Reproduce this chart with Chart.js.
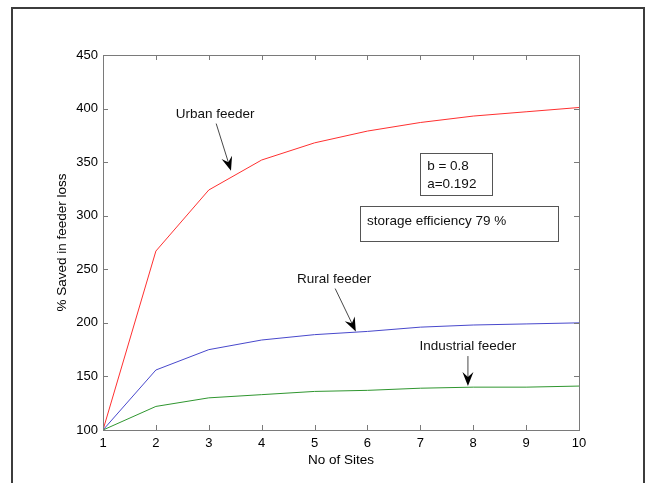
<!DOCTYPE html>
<html>
<head>
<meta charset="utf-8">
<script src="https://cdn.jsdelivr.net/npm/chart.js@4"></script>
<style>
  html, body { margin: 0; padding: 0; background: #fff; }
  #wrap { width: 646px; height: 483px; }
</style>
</head>
<body>
<div id="wrap"><canvas id="grafico" width="646" height="483"></canvas></div>
<script>
// datos
const sites = [1, 2, 3, 4, 5, 6, 7, 8, 9, 10];
const urban = [100, 267, 324, 352, 368, 379, 387, 393, 397, 401];
const rural = [100, 156, 175, 184, 189, 192, 196, 198, 199, 200];
const industrial = [100, 122, 130, 133, 136, 137, 139, 140, 140, 141];
const yTicks = [100, 150, 200, 250, 300, 350, 400, 450];

// anotaciones en unidades de datos (texto + flecha)
const labels = [
  { text: 'Urban feeder', x: 3.12, y: 395, from: [3.14, 386], to: [3.42, 342] },
  { text: 'Rural feeder', x: 5.37, y: 241, from: [5.39, 232], to: [5.78, 192] },
  { text: 'Industrial feeder', x: 7.9, y: 178, from: [7.9, 169], to: [7.9, 141] }
];
const boxes = [
  { x0: 7.0, x1: 8.35, y0: 359, y1: 319, lines: ['b = 0.8', 'a=0.192'], tx: 7.13, ty: [346.5, 329.5] },
  { x0: 5.85, x1: 9.6, y0: 309, y1: 276.5, lines: ['storage efficiency 79 %'], tx: 5.99, ty: [295] }
];

const FONT = '"Liberation Sans", Arial, Helvetica, sans-serif';

function toSeries(vals) {
  return vals.map((v, i) => ({ x: sites[i], y: v }));
}

const decoraciones = {
  id: 'decoraciones',
  beforeDraw(chart) {
    const c = chart.ctx;
    c.save();
    c.fillStyle = '#fff';
    c.fillRect(0, 0, chart.width, chart.height);
    // marco exterior
    c.strokeStyle = '#3c3c3c';
    c.lineWidth = 2;
    c.strokeRect(12, 8, 632, 520);
    c.restore();
  },
  afterDatasetsDraw(chart) {
    const c = chart.ctx;
    const a = chart.chartArea;
    const xs = chart.scales.x, ys = chart.scales.y;
    c.save();
    // caja del grafico y marcas hacia dentro
    c.strokeStyle = '#7a7a7a';
    c.lineWidth = 1;
    c.strokeRect(a.left + 0.5, a.top + 0.5, a.right - a.left, a.bottom - a.top);
    c.beginPath();
    sites.forEach(s => {
      const px = Math.round(xs.getPixelForValue(s)) + 0.5;
      c.moveTo(px, a.bottom); c.lineTo(px, a.bottom - 5);
      c.moveTo(px, a.top); c.lineTo(px, a.top + 5);
    });
    yTicks.forEach(t => {
      const py = Math.round(ys.getPixelForValue(t)) + 0.5;
      c.moveTo(a.left, py); c.lineTo(a.left + 5, py);
      c.moveTo(a.right, py); c.lineTo(a.right - 5, py);
    });
    c.stroke();

    // textos con flecha
    c.fillStyle = '#111';
    c.strokeStyle = '#333';
    c.font = '13.5px ' + FONT;
    c.textAlign = 'center';
    c.textBaseline = 'middle';
    labels.forEach(l => {
      c.fillStyle = '#111';
      c.fillText(l.text, xs.getPixelForValue(l.x), ys.getPixelForValue(l.y));
      const x1 = xs.getPixelForValue(l.from[0]), y1 = ys.getPixelForValue(l.from[1]);
      const x2 = xs.getPixelForValue(l.to[0]), y2 = ys.getPixelForValue(l.to[1]);
      const ang = Math.atan2(y2 - y1, x2 - x1);
      c.beginPath();
      c.moveTo(x1, y1);
      c.lineTo(x2 - 8 * Math.cos(ang), y2 - 8 * Math.sin(ang));
      c.lineWidth = 0.9;
      c.stroke();
      // punta
      const len = 14, half = 5.5;
      const bx = x2 - len * Math.cos(ang), by = y2 - len * Math.sin(ang);
      const mx = x2 - (len - 5) * Math.cos(ang), my = y2 - (len - 5) * Math.sin(ang);
      c.beginPath();
      c.moveTo(x2, y2);
      c.lineTo(bx + half * Math.sin(ang), by - half * Math.cos(ang));
      c.lineTo(mx, my);
      c.lineTo(bx - half * Math.sin(ang), by + half * Math.cos(ang));
      c.closePath();
      c.fillStyle = '#000';
      c.fill();
    });

    // cuadros de texto
    c.textAlign = 'left';
    boxes.forEach(b => {
      const x0 = Math.round(xs.getPixelForValue(b.x0)) + 0.5;
      const x1 = Math.round(xs.getPixelForValue(b.x1)) + 0.5;
      const y0 = Math.round(ys.getPixelForValue(b.y0)) + 0.5;
      const y1 = Math.round(ys.getPixelForValue(b.y1)) + 0.5;
      c.fillStyle = '#fff';
      c.fillRect(x0, y0, x1 - x0, y1 - y0);
      c.strokeStyle = '#555';
      c.lineWidth = 1;
      c.strokeRect(x0, y0, x1 - x0, y1 - y0);
      c.fillStyle = '#111';
      b.lines.forEach((t, i) => {
        c.fillText(t, xs.getPixelForValue(b.tx), ys.getPixelForValue(b.ty[i]));
      });
    });
    c.restore();
  }
};

const ctx = document.getElementById('grafico').getContext('2d');
const miGrafico = new Chart(ctx, {
  type: 'line',
  data: {
    datasets: [
      { label: 'Urban feeder', data: toSeries(urban), borderColor: '#ff3030', borderWidth: 1, pointRadius: 0, fill: false },
      { label: 'Rural feeder', data: toSeries(rural), borderColor: '#4848cc', borderWidth: 1, pointRadius: 0, fill: false },
      { label: 'Industrial feeder', data: toSeries(industrial), borderColor: '#2f962f', borderWidth: 1, pointRadius: 0, fill: false }
    ]
  },
  options: {
    responsive: false,
    animation: false,
    devicePixelRatio: 1,
    layout: { padding: { left: 0, top: 55, right: 67, bottom: 0 } },
    plugins: { legend: { display: false }, tooltip: { enabled: false } },
    scales: {
      x: {
        type: 'linear',
        min: 1, max: 10,
        afterFit: s => { s.height = 53; },
        afterBuildTicks: s => { s.ticks = sites.map(v => ({ value: v })); },
        grid: { display: false, drawTicks: false },
        border: { display: false },
        ticks: { color: '#000', padding: 6, font: { family: FONT, size: 13 } },
        title: { display: true, text: 'No of Sites', color: '#000', padding: { top: 0, bottom: 15 }, font: { family: FONT, size: 13.5 } }
      },
      y: {
        min: 100, max: 450,
        afterFit: s => { s.width = 103; },
        afterBuildTicks: s => { s.ticks = yTicks.map(v => ({ value: v })); },
        grid: { display: false, drawTicks: false },
        border: { display: false },
        ticks: { color: '#000', padding: 5, font: { family: FONT, size: 13 } },
        title: { display: true, text: '% Saved in feeder loss', color: '#000', padding: { top: 54, bottom: 0 }, font: { family: FONT, size: 13.5 } }
      }
    }
  },
  plugins: [decoraciones]
});
</script>
</body>
</html>
